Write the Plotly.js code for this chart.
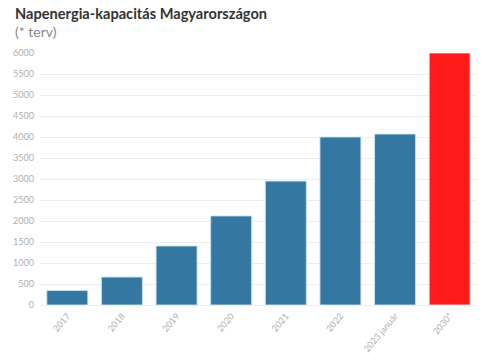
<!DOCTYPE html>
<html><head><meta charset="utf-8">
<script src="https://cdn.plot.ly/plotly-3.0.1.min.js"></script>
<style>html,body{margin:0;padding:0;background:#fff}</style>
</head><body><div id="chart" style="width:500px;height:353px"></div>
<script>
const categories = ["2017","2018","2019","2020","2021","2022","2023 január","2030*"];
const values = [344, 665, 1405, 2120, 2950, 4000, 4070, 6000];
const barColors = ["#3477a0","#3477a0","#3477a0","#3477a0","#3477a0","#3477a0","#3477a0","#ff1a1a"];
const yTicks = [0,500,1000,1500,2000,2500,3000,3500,4000,4500,5000,5500,6000];

const trace = {
  type: "bar", x: categories, y: values,
  marker: {color: barColors, line: {color: "rgba(200,225,240,0.9)", width: 1}},
  hoverinfo: "x+y"
};
const layout = {
  width: 500, height: 353,
  margin: {l: 40, r: 23, t: 53, b: 48},
  paper_bgcolor: "#fff", plot_bgcolor: "#fff",
  bargap: 0.25,
  font: {family: "Lato, 'Open Sans', sans-serif", color: "#b0b0b0", size: 9},
  xaxis: {type: "category", tickangle: -50, tickfont: {size: 9, color: "#b0b0b0"}, showgrid: false, showline: false, ticks: "", ticklabelstandoff: 3},
  yaxis: {range: [0, 6000], tickvals: yTicks, ticktext: yTicks.map(String), tickfont: {size: 9, color: "#b0b0b0"},
          gridcolor: "#eeeeee", gridwidth: 1, zeroline: true, zerolinecolor: "#eeeeee", showline: false, ticks: "", ticklabelstandoff: 5},
  showlegend: false,
  annotations: [
    {text: "<b>Napenergia-kapacitás Magyarországon</b>", xref: "paper", yref: "paper", x: 0, y: 1, xanchor: "left", yanchor: "bottom",
     font: {size: 14.6, color: "#333", family: "Lato, sans-serif"}, showarrow: false, xshift: -27, yshift: 29},
    {text: "(* terv)", xref: "paper", yref: "paper", x: 0, y: 1, xanchor: "left", yanchor: "bottom",
     font: {size: 14, color: "#888", family: "Lato, sans-serif"}, showarrow: false, xshift: -27, yshift: 11}
  ]
};
Plotly.newPlot("chart", [trace], layout, {displayModeBar: false, staticPlot: true});
</script></body></html>
